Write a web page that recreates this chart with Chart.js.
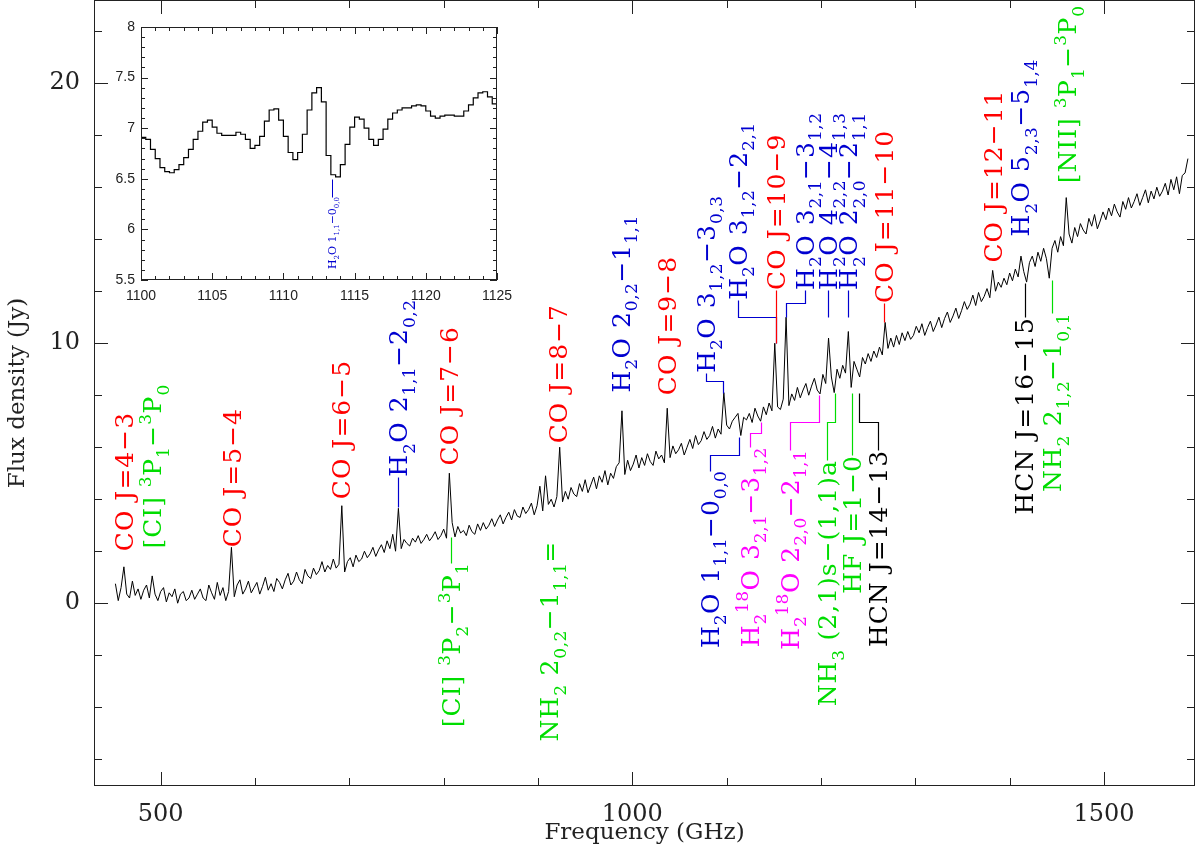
<!DOCTYPE html>
<html>
<head>
<meta charset="utf-8">
<script src="https://cdn.jsdelivr.net/npm/chart.js@4.4.0/dist/chart.umd.min.js"></script>
<style>
  body { margin: 0; background: #fff; }
  #wrap { position: relative; width: 1200px; height: 855px; }
  #main { position: absolute; left: 0; top: 0; }
  #inset { position: absolute; left: 96px; top: 5px; }
</style>
</head>
<body>
<div id="wrap">
  <canvas id="main" width="1200" height="855"></canvas>
  <canvas id="inset" width="424" height="310"></canvas>
</div>
<script>
// spectrum: channels every 3 GHz starting at 452 GHz
const specStart = 452, specStep = 3;
const flux = [
  0.75, 0.1, 0.6, 1.4, 0.35, 0.2, 0.85, 0.3, 0.55, 0.15,
  0.5, 0.7, 0.2, 1.05, 0.35, 0.1, 0.45, 0.6, 0.05, 0.4,
  0.25, 0.55, 0.0, 0.35, 0.45, 0.1, 0.2, 0.5, 0.15, 0.35,
  0.55, 0.2, 0.1, 0.7, 0.4, 0.15, 0.8, 0.3, 0.6, 0.1,
  0.45, 2.15, 0.25, 0.7, 0.9, 0.35, 0.55, 0.85, 0.4, 0.6,
  0.8, 0.35, 0.65, 1.0, 0.5, 0.75, 0.45, 0.95, 0.8, 0.55,
  0.9, 1.15, 0.7, 0.85, 1.2, 0.9, 0.75, 1.3, 1.05, 0.95,
  1.35, 1.1, 1.25, 1.6, 1.2, 1.45, 1.3, 1.7, 1.35, 1.5,
  3.75, 1.2, 1.6, 1.75, 1.4, 1.85, 1.6, 1.7, 2.0, 1.75,
  1.9, 2.15, 1.8, 2.05, 2.25, 1.95, 2.4, 2.1, 2.65, 2.0,
  3.65, 2.1, 2.45, 2.3, 2.2, 2.5, 2.35, 2.6, 2.3, 2.45,
  2.65, 2.4, 2.55, 2.75, 2.45, 2.6, 2.85, 2.5, 5.0, 3.1,
  2.55, 2.95, 2.7, 2.8, 2.6, 3.0, 2.75, 2.65, 3.05, 2.8,
  3.1, 2.85, 3.0, 3.25, 2.95, 3.2, 3.4, 3.05, 3.3, 3.5,
  3.2, 3.6, 3.35, 3.3, 3.7, 3.45, 3.6, 3.85, 3.4, 3.75,
  4.5, 3.55, 4.9, 3.8, 4.0, 3.7, 4.1, 6.0, 3.9, 4.3,
  4.0, 4.45, 4.2, 4.1, 4.6, 4.3, 4.75, 4.25, 4.55, 4.85,
  4.4, 4.9, 4.65, 5.1, 4.55, 5.0, 4.8, 5.25, 5.4, 7.4,
  4.95, 5.5, 5.1, 5.35, 5.7, 5.2, 5.6, 5.3, 5.75, 5.45,
  5.3, 5.85, 5.55, 5.7, 5.4, 7.5, 5.6, 6.05, 5.75, 5.9,
  6.15, 5.7, 6.0, 6.3, 5.95, 6.45, 6.1, 6.25, 6.6, 6.3,
  6.45, 6.8, 6.35, 6.7, 6.5, 8.1, 6.85, 6.7, 7.0, 7.15,
  7.3, 6.45, 7.15, 7.05, 7.3, 6.95, 7.5, 7.2, 7.0, 7.55,
  7.25, 7.7, 7.4, 10.0, 7.55, 7.45, 7.85, 11.0, 7.6, 8.05,
  7.8, 8.3, 7.9, 8.2, 8.45, 8.0, 8.35, 8.65, 8.2, 8.05,
  8.8, 8.45, 10.2, 8.7, 8.1, 9.0, 8.65, 9.15, 8.85, 10.45,
  8.3, 9.3, 9.0, 8.7, 9.45, 9.2, 9.6, 9.3, 9.7, 9.45,
  9.85, 9.55, 10.8, 9.8, 10.2, 9.85, 10.3, 9.95, 10.4, 10.1,
  10.45, 10.15, 10.3, 10.65, 10.4, 10.75, 10.3, 10.6, 10.85, 10.45,
  10.7, 11.0, 10.6, 10.95, 11.2, 10.8, 11.05, 11.35, 10.95, 11.25,
  11.6, 11.3, 11.5, 11.85, 11.45, 11.95, 11.6, 11.8, 12.1, 11.75,
  12.8, 12.0, 12.35, 12.15, 12.5, 12.25, 12.7, 12.4, 12.85, 12.55,
  13.35, 12.75, 12.35, 13.1, 13.35, 12.95, 13.5, 13.15, 13.65, 13.25,
  12.5, 13.65, 13.95, 13.5, 14.1, 13.75, 15.6, 14.2, 13.85, 14.45,
  14.1, 14.6, 14.35, 14.2, 14.8, 14.5, 14.95, 14.4, 14.7, 15.05,
  14.75, 15.2, 14.9, 15.35, 15.05, 14.85, 15.45, 15.15, 15.6, 15.2,
  15.45, 15.75, 15.3, 15.6, 15.9, 15.4, 15.85, 15.55, 16.0, 15.65,
  15.85, 16.15, 15.7, 16.3, 15.9, 16.4, 15.75, 16.45, 16.55, 17.1
];
const freq = flux.map((_, i) => specStart + i * specStep);

// inset: 0.333 GHz channels from 1100 GHz
const insetStart = 1100, insetWidth = 25 / 75;
const insetFlux = [
  6.91, 6.89, 6.79, 6.70, 6.61, 6.57, 6.56, 6.59, 6.64, 6.71,
  6.79, 6.89, 6.97, 7.06, 7.08, 7.01, 6.95, 6.93, 6.93, 6.93,
  6.96, 6.94, 6.89, 6.80, 6.83, 6.92, 7.07, 7.18, 7.19, 7.08,
  6.92, 6.76, 6.69, 6.76, 6.94, 7.18, 7.35, 7.40, 7.26, 6.73,
  6.54, 6.52, 6.64, 6.84, 7.01, 7.11, 7.09, 7.00, 6.89, 6.83,
  6.89, 6.99, 7.09, 7.15, 7.18, 7.20, 7.20, 7.22, 7.23, 7.22,
  7.17, 7.12, 7.10, 7.12, 7.13, 7.13, 7.12, 7.12, 7.17, 7.23,
  7.30, 7.35, 7.36, 7.31, 7.24
];

const xTickValues = [500, 1000, 1500];
const yTickValues = [0, 10, 20];
const insetXTicks = [1100, 1105, 1110, 1115, 1120, 1125];
const insetYTicks = [5.5, 6, 6.5, 7, 7.5, 8];

const RED = '#ff0000', GREEN = '#00dd00', BLUE = '#0000d0', MAGENTA = '#ff00ff', BLACK = '#000000';

const mainLabels = [
  {text: 'CO J=4−3', color: RED, f: 461, v: 2.0},
  {text: '[CI] ^{3}P_{1}−^{3}P_{0}', color: GREEN, f: 491, v: 2.1},
  {text: 'CO J=5−4', color: RED, f: 576, v: 2.15},
  {text: 'CO J=6−5', color: RED, f: 691, v: 4.0},
  {text: 'H_{2}O 2_{1,1}−2_{0,2}', color: BLUE, f: 752, v: 4.86, path: [[752, 3.7], [752, 4.86]]},
  {text: 'CO J=7−6', color: RED, f: 806, v: 5.3},
  {text: '[CI] ^{3}P_{2}−^{3}P_{1}', color: GREEN, f: 808, v: 1.55, align: 'end', path: [[808, 1.55], [808, 2.55]]},
  {text: 'NH_{2} 2_{0,2}−1_{1,1}=', color: GREEN, f: 912, v: 2.4, align: 'end'},
  {text: 'CO J=8−7', color: RED, f: 921.5, v: 6.15},
  {text: 'H_{2}O 2_{0,2}−1_{1,1}', color: BLUE, f: 987.5, v: 8.1},
  {text: 'CO J=9−8', color: RED, f: 1037, v: 8.0},
  {text: 'H_{2}O 3_{1,2}−3_{0,3}', color: BLUE, f: 1078, v: 8.86, path: [[1096.5, 8.1], [1096.5, 8.55], [1078, 8.55], [1078, 8.86]]},
  {text: 'H_{2}O 1_{1,1}−0_{0,0}', color: BLUE, f: 1082, v: 5.1, align: 'end', path: [[1082, 5.1], [1082, 5.7], [1113, 5.7], [1113, 6.4]]},
  {text: 'H_{2}^{18}O 3_{2,1}−3_{1,2}', color: MAGENTA, f: 1124.5, v: 6.0, align: 'end', path: [[1124.5, 6.0], [1124.5, 6.55], [1136.5, 6.55], [1136.5, 6.97]]},
  {text: 'H_{2}O 3_{1,2}−2_{2,1}', color: BLUE, f: 1112, v: 11.67, path: [[1152.3, 10.0], [1152.3, 11.0], [1112, 11.0], [1112, 11.67]]},
  {text: 'CO J=10−9', color: RED, f: 1152.3, v: 12.05, path: [[1152.3, 10.0], [1152.3, 12.05]]},
  {text: 'H_{2}O 3_{2,1}−3_{1,2}', color: BLUE, f: 1183, v: 12.05, path: [[1163, 11.0], [1163, 11.55], [1183, 11.55], [1183, 12.05]]},
  {text: 'H_{2}^{18}O 2_{2,0}−2_{1,1}', color: MAGENTA, f: 1167, v: 5.9, align: 'end', path: [[1167, 5.9], [1167, 6.97], [1198, 6.97], [1198, 8.0]]},
  {text: 'H_{2}O 4_{2,2}−4_{1,3}', color: BLUE, f: 1207.5, v: 12.05, path: [[1207.5, 11.0], [1207.5, 12.05]]},
  {text: 'NH_{3} (2,1)s−(1,1)a', color: GREEN, f: 1206.5, v: 5.5, align: 'end', path: [[1206.5, 5.5], [1206.5, 6.97], [1215, 6.97], [1215, 8.1]]},
  {text: 'H_{2}O 2_{2,0}−2_{1,1}', color: BLUE, f: 1228.7, v: 12.05, path: [[1228.7, 11.0], [1228.7, 12.05]]},
  {text: 'HF J=1−0', color: GREEN, f: 1232.7, v: 5.7, align: 'end', path: [[1232.7, 5.7], [1232.7, 8.1]]},
  {text: 'HCN J=14−13', color: BLACK, f: 1260.5, v: 5.9, align: 'end', path: [[1260.5, 5.9], [1260.5, 6.97], [1240.2, 6.97], [1240.2, 8.1]]},
  {text: 'CO J=11−10', color: RED, f: 1267, v: 11.55, path: [[1267, 10.8], [1267, 11.55]]},
  {text: 'CO J=12−11', color: RED, f: 1382.3, v: 13.1},
  {text: 'H_{2}O 5_{2,3}−5_{1,4}', color: BLUE, f: 1411, v: 14.1},
  {text: 'HCN J=16−15', color: BLACK, f: 1415.5, v: 11.0, align: 'end', path: [[1416.3, 11.0], [1416.3, 12.3]]},
  {text: 'NH_{2} 2_{1,2}−1_{0,1}', color: GREEN, f: 1445, v: 11.15, align: 'end', path: [[1445, 11.15], [1445, 12.45]]},
  {text: '[NII] ^{3}P_{1}−^{3}P_{0}', color: GREEN, f: 1461, v: 16.15}
];
const insetLabels = [
  {text: 'H_{2}O 1_{1,1}−0_{0,0}', color: BLUE, f: 1113.4, v: 6.32, align: 'end', path: [[1113.4, 6.32], [1113.4, 6.5]]}
];

// ---- drawing helpers ----
function parseRich(s) {
  const out = [];
  let i = 0, buf = '';
  while (i < s.length) {
    const c = s[i];
    if ((c === '_' || c === '^') && s[i + 1] === '{') {
      if (buf) { out.push({t: buf, m: 0}); buf = ''; }
      const j = s.indexOf('}', i);
      out.push({t: s.slice(i + 2, j), m: c === '_' ? 1 : -1});
      i = j + 1;
    } else { buf += c; i++; }
  }
  if (buf) out.push({t: buf, m: 0});
  return out;
}

// vertical text reading bottom to top, caps centred on x
function drawRich(ctx, s, x, y, size, family, align, spacing) {
  const parts = parseRich(s);
  const small = Math.round(size * 0.68);
  const setFont = p => {
    ctx.font = (p.m ? small : size) + 'px "' + family + '"';
    ctx.letterSpacing = (p.m ? spacing / 2 : spacing) + 'px';
  };
  ctx.save();
  let w = 0;
  parts.forEach(p => { setFont(p); p.w = ctx.measureText(p.t).width; w += p.w; });
  ctx.translate(x, y);
  ctx.rotate(-Math.PI / 2);
  ctx.textAlign = 'left';
  ctx.textBaseline = 'alphabetic';
  let cx = align === 'end' ? -w : 0;
  const base = size * 0.36;
  parts.forEach(p => {
    setFont(p);
    const dy = p.m === 1 ? size * 0.3 : (p.m === -1 ? -size * 0.42 : 0);
    ctx.fillText(p.t, cx, base + dy);
    cx += p.w;
  });
  ctx.restore();
}

function makeLabels(items, size, lw, spacing) {
  return {
    id: 'lineLabels',
    afterDatasetsDraw(chart) {
      const {ctx, scales: {x, y}} = chart;
      ctx.save();
      items.forEach(it => {
        ctx.strokeStyle = it.color;
        ctx.fillStyle = it.color;
        ctx.lineWidth = lw;
        if (it.path) {
          ctx.beginPath();
          it.path.forEach(([f, v], k) => {
            const px = Math.round(x.getPixelForValue(f)) + 0.5;
            const py = Math.round(y.getPixelForValue(v)) + 0.5;
            if (k) ctx.lineTo(px, py); else ctx.moveTo(px, py);
          });
          ctx.stroke();
        }
        drawRich(ctx, it.text, x.getPixelForValue(it.f), y.getPixelForValue(it.v), size, 'DejaVu Serif', it.align, spacing);
      });
      ctx.restore();
    }
  };
}

function makeFrame(cfg) {
  return {
    id: 'frameTicks',
    afterDatasetsDraw(chart) {
      const {ctx, chartArea: a, scales: {x, y}} = chart;
      ctx.save();
      ctx.strokeStyle = cfg.color;
      ctx.lineWidth = 1;
      ctx.strokeRect(a.left + 0.5, a.top + 0.5, a.right - a.left - 1, a.bottom - a.top - 1);
      ctx.beginPath();
      const isMajor = (v, m) => Math.abs(v / m - Math.round(v / m)) < 1e-6;
      for (let n = Math.ceil(x.min / cfg.xMinor - 1e-9); n <= Math.floor(x.max / cfg.xMinor + 1e-9); n++) {
        const v = n * cfg.xMinor;
        const L = isMajor(v, cfg.xMajor) ? cfg.majLen : cfg.minLen;
        const px = Math.round(x.getPixelForValue(v)) + 0.5;
        ctx.moveTo(px, a.bottom); ctx.lineTo(px, a.bottom - L);
        ctx.moveTo(px, a.top); ctx.lineTo(px, a.top + L);
      }
      for (let n = Math.ceil(y.min / cfg.yMinor - 1e-9); n <= Math.floor(y.max / cfg.yMinor + 1e-9); n++) {
        const v = n * cfg.yMinor;
        const L = isMajor(v, cfg.yMajor) ? cfg.majLen : cfg.minLen;
        const py = Math.round(y.getPixelForValue(v)) + 0.5;
        ctx.moveTo(a.left, py); ctx.lineTo(a.left + L, py);
        ctx.moveTo(a.right, py); ctx.lineTo(a.right - L, py);
      }
      ctx.stroke();
      ctx.restore();
    }
  };
}

const noGrid = {display: false, drawTicks: false, drawOnChartArea: false};

// ---- main spectrum ----
new Chart(document.getElementById('main'), {
  type: 'line',
  data: {
    datasets: [{
      data: freq.map((f, i) => ({x: f, y: flux[i]})),
      borderColor: '#000',
      borderWidth: 1,
      pointRadius: 0,
      tension: 0
    }]
  },
  options: {
    responsive: false,
    animation: false,
    devicePixelRatio: 1,
    layout: {padding: {top: 0, right: 5, left: 0, bottom: 0}},
    plugins: {legend: {display: false}, tooltip: {enabled: false}},
    scales: {
      x: {
        type: 'linear', min: 429.3, max: 1596.5,
        afterBuildTicks: s => { s.ticks = xTickValues.map(v => ({value: v})); },
        afterFit: s => { s.height = 69; s.paddingLeft = 0; s.paddingRight = 0; },
        grid: noGrid, border: {display: false},
        ticks: {padding: 14, autoSkip: false, maxRotation: 0, color: '#222',
                font: {family: 'DejaVu Serif', size: 24}, callback: v => String(v)},
        title: {display: true, text: 'Frequency (GHz)', color: '#222',
                font: {family: 'DejaVu Serif', size: 23}, padding: {top: 0, bottom: 8}}
      },
      y: {
        type: 'linear', min: -7.03, max: 23.2,
        afterBuildTicks: s => { s.ticks = yTickValues.map(v => ({value: v})); },
        afterFit: s => { s.width = 94; s.paddingTop = 0; s.paddingBottom = 0; },
        grid: noGrid, border: {display: false},
        ticks: {padding: 14, color: '#222', font: {family: 'DejaVu Serif', size: 24}, callback: v => String(v)},
        title: {display: true, text: 'Flux density (Jy)', color: '#222',
                font: {family: 'DejaVu Serif', size: 23}, padding: {top: 4, bottom: 0}}
      }
    }
  },
  plugins: [makeFrame({xMinor: 100, xMajor: 500, yMinor: 2, yMajor: 10, majLen: 14, minLen: 8, color: '#222'}),
            makeLabels(mainLabels, 25, 1.2, 1)]
});

// ---- inset zoom on 1100-1125 GHz ----
const insetPts = insetFlux.map((v, i) => ({x: insetStart + i * insetWidth, y: v}));
insetPts.push({x: 1125, y: insetFlux[insetFlux.length - 1]});

new Chart(document.getElementById('inset'), {
  type: 'line',
  data: {
    datasets: [{
      data: insetPts,
      borderColor: '#000',
      borderWidth: 1.2,
      pointRadius: 0,
      stepped: 'before'
    }]
  },
  options: {
    responsive: false,
    animation: false,
    devicePixelRatio: 1,
    layout: {padding: {top: 22, right: 23, left: 0, bottom: 0}},
    plugins: {legend: {display: false}, tooltip: {enabled: false}},
    scales: {
      x: {
        type: 'linear', min: 1100, max: 1125,
        afterBuildTicks: s => { s.ticks = insetXTicks.map(v => ({value: v})); },
        afterFit: s => { s.height = 35; s.paddingLeft = 0; s.paddingRight = 0; },
        grid: noGrid, border: {display: false},
        ticks: {padding: 8, autoSkip: false, maxRotation: 0, color: '#222',
                font: {family: 'Liberation Sans', size: 14}, callback: v => String(v)}
      },
      y: {
        type: 'linear', min: 5.5, max: 8,
        afterBuildTicks: s => { s.ticks = insetYTicks.map(v => ({value: v})); },
        afterFit: s => { s.width = 45; s.paddingTop = 0; s.paddingBottom = 0; },
        grid: noGrid, border: {display: false},
        ticks: {padding: 6, color: '#222', font: {family: 'Liberation Sans', size: 14}, callback: v => String(v)}
      }
    }
  },
  plugins: [makeFrame({xMinor: 1, xMajor: 5, yMinor: 0.1, yMajor: 0.5, majLen: 7, minLen: 4, color: '#222'}),
            makeLabels(insetLabels, 11, 1, 0)]
});
</script>
</body>
</html>
